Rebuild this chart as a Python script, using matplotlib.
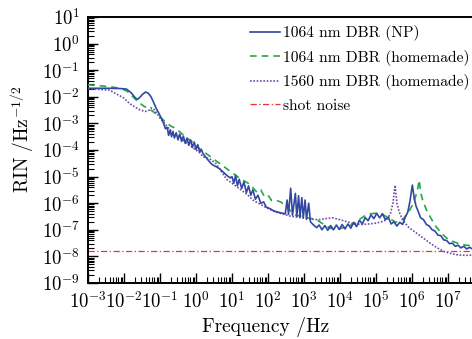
import numpy as np
import matplotlib
matplotlib.use("Agg")
import matplotlib.pyplot as plt
from matplotlib.ticker import LogLocator, FuncFormatter, NullFormatter

plt.rcParams['mathtext.fontset'] = 'cm'
plt.rcParams['font.family'] = 'serif'
plt.rcParams['font.serif'] = ['cmr10', 'DejaVu Serif']
plt.rcParams['axes.unicode_minus'] = False

# ---- data (log10 of frequency in Hz, log10 of RIN in Hz^-1/2) ----
np_logf = [-3.00, -2.70, -2.40, -2.10, -1.93, -1.80, -1.70, -1.63, -1.56, -1.48,
           -1.40, -1.33, -1.25, -1.18, -1.10, -1.02, -0.96, -0.90, -0.85,
           -0.80, -0.76, -0.72, -0.68, -0.64, -0.60, -0.55, -0.50, -0.45, -0.40,
           -0.35, -0.30, -0.25, -0.20, -0.15, -0.10, -0.05, 0.00, 0.05, 0.10,
           0.15, 0.20, 0.28, 0.36, 0.45, 0.55, 0.65, 0.75, 0.85, 0.95,
           1.00, 1.05, 1.10, 1.15, 1.20, 1.27, 1.33, 1.40, 1.46, 1.52, 1.58,
           1.65, 1.72, 1.80, 1.88, 1.95, 2.05, 2.15, 2.25, 2.35,
           2.48, 2.53, 2.57, 2.63, 2.68, 2.76, 2.80, 2.85, 2.89, 2.94, 2.98,
           3.03, 3.07, 3.13, 3.18, 3.25, 3.35,
           3.42, 3.50, 3.58, 3.66, 3.74, 3.82, 3.90, 3.98, 4.06, 4.14, 4.22,
           4.30, 4.38, 4.46, 4.54, 4.62, 4.70, 4.78, 4.86, 4.94, 5.02, 5.10,
           5.18, 5.26, 5.34, 5.42, 5.50, 5.58, 5.66, 5.74, 5.82, 5.88, 5.94,
           6.01, 6.06, 6.11, 6.17, 6.24, 6.32, 6.40, 6.48, 6.56, 6.64, 6.72,
           6.80, 6.88, 6.96, 7.04, 7.12, 7.20, 7.28, 7.36, 7.44, 7.52, 7.60, 7.68]
np_logrin = [-1.68, -1.68, -1.68, -1.69, -1.71, -1.85, -2.02, -2.10, -2.02, -1.90,
             -1.82, -1.86, -2.00, -2.20, -2.45, -2.65, -2.82, -3.00, -3.20,
             -3.15, -3.45, -3.25, -3.50, -3.30, -3.55, -3.35, -3.62, -3.40, -3.68,
             -3.48, -3.75, -3.55, -3.82, -3.62, -3.90, -3.70, -3.98, -3.80, -4.08,
             -3.98, -4.15, -4.28, -4.42, -4.55, -4.62, -4.70, -4.82, -4.95, -5.05,
             -5.00, -5.25, -4.95, -5.35, -5.10, -5.45, -5.20, -5.60, -5.35, -5.70, -5.50,
             -5.85, -5.70, -6.00, -5.95, -6.15, -6.20, -6.28, -6.33, -6.36,
             -6.40, -5.88, -6.42, -5.44, -6.45, -5.63, -6.50, -5.72, -6.52, -5.79, -6.55,
             -5.88, -6.60, -6.00, -6.70, -6.80, -6.92,
             -6.82, -7.00, -6.84, -7.02, -6.84, -7.00, -6.82, -6.99, -6.80, -6.97, -6.78,
             -6.94, -6.72, -6.88, -6.64, -6.78, -6.54, -6.66, -6.44, -6.58, -6.38, -6.55,
             -6.40, -6.62, -6.52, -6.78, -6.70, -6.86, -6.72, -6.80, -6.50, -6.35, -5.95,
             -5.32, -5.80, -6.10, -6.30, -6.55, -6.62, -6.80, -6.86, -7.00, -7.05, -7.20,
             -7.22, -7.38, -7.40, -7.52, -7.50, -7.62, -7.58, -7.68, -7.62, -7.72, -7.66, -7.72]

hm1064_logf = [-3.00, -2.70, -2.40, -2.10, -1.90, -1.75, -1.60, -1.45, -1.30, -1.15,
               -1.00, -0.85, -0.70, -0.55, -0.40, -0.25, -0.10, 0.05, 0.25, 0.45,
               0.65, 0.85, 1.05, 1.25, 1.45, 1.60, 1.70, 1.80, 1.90, 2.00, 2.10,
               2.20, 2.35, 2.55, 2.75, 2.95, 3.15, 3.35, 3.55, 3.75, 3.95, 4.15,
               4.35, 4.55, 4.75, 4.95, 5.15, 5.35, 5.55, 5.75, 5.90, 6.02, 6.10,
               6.16, 6.20, 6.24, 6.30, 6.40, 6.52, 6.65, 6.80, 6.95, 7.10, 7.30,
               7.50, 7.68]
hm1064_logrin = [-1.55, -1.58, -1.62, -1.68, -1.80, -2.00, -2.20, -2.35, -2.45, -2.60,
                 -2.75, -2.95, -3.10, -3.20, -3.38, -3.55, -3.70, -3.90, -4.10, -4.30,
                 -4.50, -4.70, -4.90, -5.10, -5.25, -5.45, -5.60, -5.50, -5.75, -5.70, -5.90,
                 -5.88, -5.95, -6.18, -6.44, -6.50, -6.56, -6.62, -6.80, -6.95, -6.98, -6.90,
                 -6.80, -6.60, -6.42, -6.38, -6.40, -6.55, -6.72, -6.60, -6.35, -6.05, -5.75,
                 -5.45, -5.13, -5.60, -5.90, -6.25, -6.55, -6.85, -7.10, -7.30, -7.42, -7.52,
                 -7.58, -7.60]

hm1560_logf = [-3.00, -2.70, -2.40, -2.20, -2.00, -1.85, -1.70, -1.55, -1.40, -1.30,
               -1.25, -1.18, -1.10, -1.00, -0.90, -0.75, -0.60, -0.45, -0.30, -0.15,
               0.00, 0.10, 0.20, 0.40, 0.55, 0.70, 0.85, 1.00, 1.20, 1.40, 1.60,
               1.80, 2.00, 2.20, 2.40, 2.60, 2.80, 3.00, 3.20, 3.40, 3.60, 3.80,
               4.00, 4.20, 4.40, 4.60, 4.80, 5.00, 5.15, 5.30, 5.40, 5.47, 5.53,
               5.58, 5.65, 5.75, 5.90, 6.10, 6.30, 6.50, 6.70, 6.90, 7.10, 7.30,
               7.50, 7.68]
hm1560_logrin = [-1.70, -1.72, -1.75, -1.90, -2.05, -2.25, -2.38, -2.50, -2.55, -2.50,
                 -2.42, -2.45, -2.60, -2.80, -2.95, -3.20, -3.40, -3.50, -3.70, -3.85,
                 -4.00, -4.10, -4.26, -4.35, -4.50, -4.80, -5.10, -5.25, -5.45, -5.65, -5.90,
                 -6.05, -6.20, -6.33, -6.40, -6.48, -6.52, -6.56, -6.60, -6.62, -6.58, -6.55,
                 -6.62, -6.70, -6.78, -6.80, -6.78, -6.75, -6.70, -6.62, -6.40, -6.00, -5.32,
                 -6.00, -6.35, -6.65, -6.90, -7.10, -7.30, -7.50, -7.68, -7.82, -7.90, -7.95,
                 -7.96, -7.95]

shot_noise_level = 1.6e-8

labels = ['1064 nm DBR (NP)', '1064 nm DBR (homemade)',
          '1560 nm DBR (homemade)', 'shot noise']

fig = plt.figure(figsize=(4.72, 3.39), dpi=100)
ax = fig.add_axes([88/472, 1-283/339, 396/472, 266/339])

c_blue = '#3347a3'
c_green = '#22a845'
c_purple = '#6e4aa8'
c_red = '#e8333a'

ax.plot(10**np.array(np_logf), 10**np.array(np_logrin), color=c_blue, lw=1.2,
        label=labels[0], zorder=4)
ax.plot(10**np.array(hm1064_logf), 10**np.array(hm1064_logrin), color=c_green, lw=1.2,
        ls=(0, (4, 3)), label=labels[1], zorder=3)
ax.plot(10**np.array(hm1560_logf), 10**np.array(hm1560_logrin), color=c_purple, lw=1.2,
        ls=(0, (1, 1)), label=labels[2], zorder=3)
ax.axhline(shot_noise_level, color=c_red, lw=0.9, ls=(0, (5, 2, 1, 2)),
           label=labels[3], zorder=2)

ax.set_xscale('log')
ax.set_yscale('log')
ax.set_xlim(1e-3, 1e8)
ax.set_ylim(1e-9, 1e1)

fmt = FuncFormatter(lambda v, p: r'$10^{%d}$' % int(round(np.log10(v))))
ax.xaxis.set_major_locator(LogLocator(base=10, numticks=20))
ax.yaxis.set_major_locator(LogLocator(base=10, numticks=20))
ax.xaxis.set_minor_locator(LogLocator(base=10, subs=np.arange(2, 10), numticks=20))
ax.yaxis.set_minor_locator(LogLocator(base=10, subs=np.arange(2, 10), numticks=20))
ax.xaxis.set_major_formatter(fmt)
ax.yaxis.set_major_formatter(fmt)
ax.xaxis.set_minor_formatter(NullFormatter())
ax.yaxis.set_minor_formatter(NullFormatter())

ax.tick_params(which='both', direction='in', top=False, right=False, labelsize=13.5)
ax.tick_params(which='major', length=7, width=1.0)
ax.tick_params(which='minor', length=4, width=0.8)
ax.tick_params(axis='y', pad=6)
ax.tick_params(axis='x', pad=6)
for s in ax.spines.values():
    s.set_linewidth(1.4)

ax.set_xlabel('Frequency /Hz', fontsize=14)
ax.xaxis.set_label_coords((266-88)/396, -(317-283)/266)
ax.set_ylabel(r'$\mathrm{RIN\ /Hz}^{-1/2}$', fontsize=14)
ax.yaxis.set_label_coords((36-88)/396, (283-139)/266)

leg = ax.legend(loc='upper left', bbox_to_anchor=(250/472, 1-25/339),
                bbox_transform=fig.transFigure, frameon=False, fontsize=11.2,
                handlelength=1.92, handletextpad=0.2, labelspacing=0.55,
                borderpad=0, borderaxespad=0)

fig.savefig('out.png', dpi=100)
